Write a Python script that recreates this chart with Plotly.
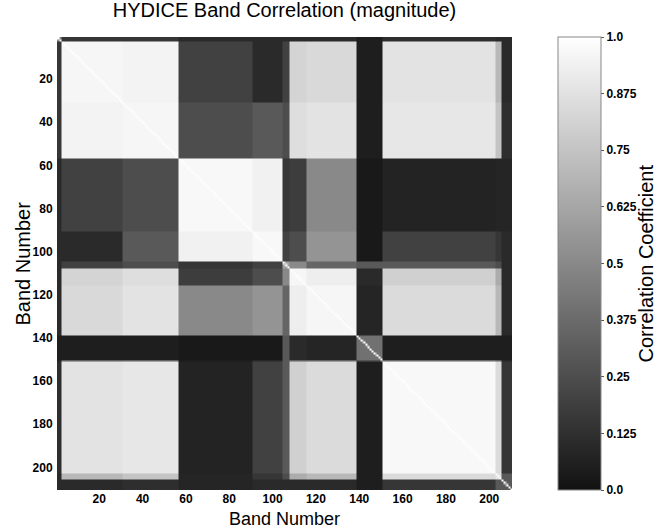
import numpy as np
import plotly.graph_objects as go

# ---------------- data ----------------
n_bands = 210
# first band of each spectral segment (edge, A1, A2, B1, B2, C, D1, D2, E, F1, F2, edge)
segment_starts = [1, 3, 31, 57, 91, 105, 108, 116, 139, 151, 203, 206]
# correlation magnitude between segments (symmetric), estimated from grey levels
block_corr = [
    [0.50, 0.15, 0.15, 0.10, 0.10, 0.10, 0.10, 0.10, 0.05, 0.12, 0.10, 0.10],
    [0.15, 0.96, 0.95, 0.20, 0.10, 0.20, 0.82, 0.84, 0.05, 0.88, 0.70, 0.10],
    [0.15, 0.95, 0.96, 0.25, 0.30, 0.25, 0.86, 0.88, 0.05, 0.90, 0.75, 0.12],
    [0.10, 0.20, 0.25, 0.97, 0.94, 0.15, 0.18, 0.50, 0.03, 0.07, 0.08, 0.08],
    [0.10, 0.10, 0.30, 0.94, 0.97, 0.20, 0.25, 0.55, 0.03, 0.20, 0.15, 0.10],
    [0.10, 0.20, 0.25, 0.15, 0.20, 0.60, 0.50, 0.35, 0.30, 0.30, 0.25, 0.10],
    [0.10, 0.82, 0.86, 0.18, 0.25, 0.50, 0.96, 0.93, 0.10, 0.80, 0.65, 0.10],
    [0.10, 0.84, 0.88, 0.50, 0.55, 0.35, 0.93, 0.96, 0.08, 0.85, 0.70, 0.10],
    [0.05, 0.05, 0.05, 0.03, 0.03, 0.30, 0.10, 0.08, 0.40, 0.05, 0.05, 0.05],
    [0.12, 0.88, 0.90, 0.07, 0.20, 0.30, 0.80, 0.85, 0.05, 0.97, 0.85, 0.15],
    [0.10, 0.70, 0.75, 0.08, 0.15, 0.25, 0.65, 0.70, 0.05, 0.85, 0.88, 0.30],
    [0.10, 0.10, 0.12, 0.08, 0.10, 0.10, 0.10, 0.10, 0.05, 0.15, 0.30, 0.30],
]
axis_ticks = [20, 40, 60, 80, 100, 120, 140, 160, 180, 200]
cbar_ticks = [0.0, 0.125, 0.25, 0.375, 0.5, 0.625, 0.75, 0.875, 1.0]
cbar_labels = ["0.0", "0.125", "0.25", "0.375", "0.5", "0.625", "0.75", "0.875", "1.0"]

# ---------------- build matrix ----------------
bands = np.arange(1, n_bands + 1)
seg = np.searchsorted(np.array(segment_starts), bands, side="right") - 1
B = np.array(block_corr)
z = B[seg][:, seg]
np.fill_diagonal(z, 1.0)

L, R, T, Bm = 57, 150, 37, 39
W, H = 662, 529
pw = W - L - R
ph = H - T - Bm

FONT = "Liberation Sans, Arial"

fig = go.Figure(
    go.Heatmap(
        z=z, x=bands, y=bands,
        zmin=0, zmax=1,
        zsmooth="best",
        colorscale=[[0, "rgb(18,18,18)"], [1, "rgb(255,255,255)"]],
        colorbar=dict(
            x=(558 - L) / pw, xanchor="left", xref="paper", xpad=0,
            y=0.5, yanchor="middle", len=1, lenmode="fraction", ypad=0,
            thickness=43, thicknessmode="pixels",
            outlinewidth=1, outlinecolor="#888888",
            tickvals=cbar_ticks, ticktext=cbar_labels,
            ticks="outside", ticklen=3, tickcolor="#555555",
            tickfont=dict(family=FONT, size=12, color="black", weight="bold"),
        ),
        hoverinfo="skip",
    )
)

axis_font = dict(family=FONT, size=12, color="black", weight="bold")
fig.update_xaxes(
    range=[0.5, 210.5], tickvals=axis_ticks, ticks="", ticklen=0,
    tickfont=axis_font, showgrid=False, zeroline=False,
    showline=False, automargin=False,
)
fig.update_yaxes(
    range=[210.5, 0.5], tickvals=axis_ticks, ticks="outside", ticklen=1,
    tickcolor="rgba(0,0,0,0)", tickfont=axis_font, showgrid=False, zeroline=False,
    showline=False, automargin=False,
)

title_font = dict(family=FONT, size=20, color="black")
annotations = [
    # x-axis title
    dict(text="Band Number", xref="paper", yref="paper", x=0.5,
         y=-(519 - (H - Bm)) / ph, xanchor="center", yanchor="middle",
         showarrow=False, borderpad=0, font=dict(family=FONT, size=18, color="black")),
    # y-axis title
    dict(text="Band Number", xref="paper", yref="paper", x=-(L - 22) / pw,
         y=0.5, xanchor="center", yanchor="middle", textangle=-90,
         showarrow=False, font=title_font),
    # colour-bar title
    dict(text="Correlation Coefficient", xref="paper", yref="paper",
         x=(645 - L) / pw, y=0.5, xanchor="center", yanchor="middle",
         textangle=-90, showarrow=False, font=title_font),
]

fig.update_layout(
    width=W, height=H,
    margin=dict(l=L, r=R, t=T, b=Bm, autoexpand=False),
    paper_bgcolor="white", plot_bgcolor="white",
    annotations=annotations,
    title=dict(text="HYDICE Band Correlation (magnitude)", x=0.5, xref="paper",
               xanchor="center", yref="container", y=1 - 10 / H, yanchor="middle",
               font=title_font),
)

fig.write_html("out.html", config={"displayModeBar": False})
